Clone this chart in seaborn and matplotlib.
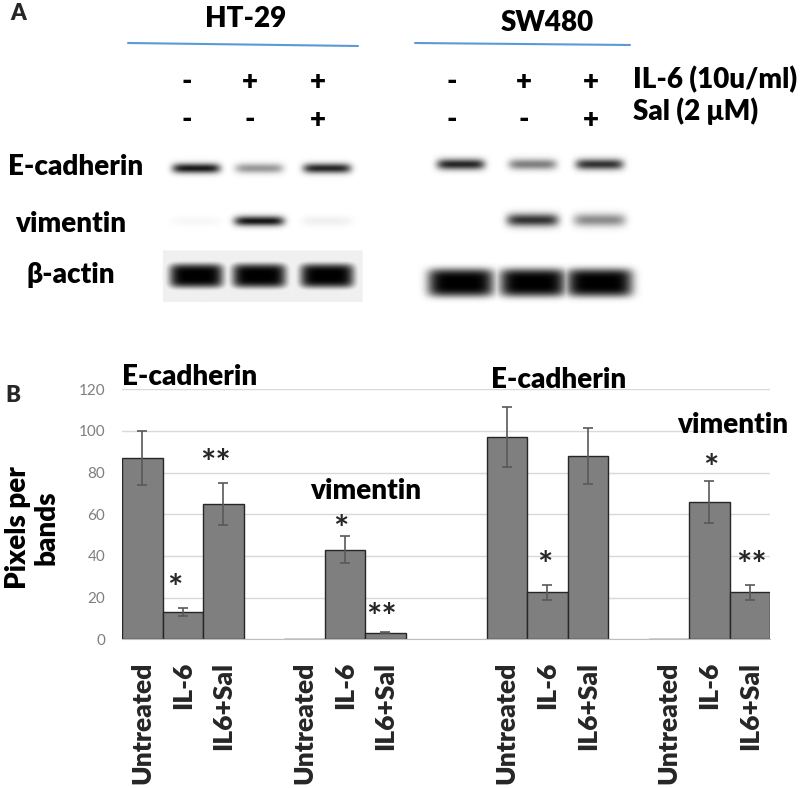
import matplotlib
matplotlib.use('Agg')

import numpy as np
import pandas as pd
import matplotlib.pyplot as plt
import seaborn as sns

sns.set_style('white')
plt.rcParams['font.family'] = ['Lato', 'DejaVu Sans']

# ---- panel A: western blot band intensities (0 = nothing, 1 = saturated)
# lanes: untreated, IL-6, IL-6 + Sal
il6_signs = ['-', '+', '+']
sal_signs = ['-', '-', '+']
ht_ecad = [0.9, 0.4, 0.85]
ht_vim = [0.03, 0.92, 0.06]
ht_actin = [1.0, 1.0, 1.0]
sw_ecad = [0.85, 0.5, 0.8]
sw_vim = [0.0, 0.8, 0.45]
sw_actin = [1.0, 1.0, 1.0]
row_names = ['E-cadherin', 'vimentin', 'β-actin']

# ---- panel B: densitometry, pixels per band (mean, sd)
treatments = ['Untreated', 'IL-6', 'IL6+Sal']
ht_ecad_mean = [87, 13, 65]
ht_ecad_sd = [13, 2, 10]
ht_vim_mean = [0.3, 43, 3.2]
ht_vim_sd = [0, 6.5, 0.3]
sw_ecad_mean = [97, 22.5, 88]
sw_ecad_sd = [14.5, 3.4, 13.3]
sw_vim_mean = [0.3, 66, 22.5]
sw_vim_sd = [0, 10, 3.4]
ht_ecad_sig = ['', '*', '**']
ht_vim_sig = ['', '*', '**']
sw_ecad_sig = ['', '*', '']
sw_vim_sig = ['', '*', '**']
panel_titles = ['E-cadherin', 'vimentin', 'E-cadherin', 'vimentin']

# layout (pixel coords of the 800x788 figure for panel A)
ht_lanes = [196, 259, 327]
sw_lanes = [461, 533, 600]
ht_rows = [(168, 5, 24, 2), (221, 5, 25, 2), (276, 12, 27, 4)]
sw_rows = [(164, 5.5, 24, 2), (220, 6.5, 26, 2), (283, 14, 33, 4)]
group_start = [0, 4, 9, 13]
title_pos = [(-0.5, 122), (4.15, 67.5), (8.6, 120.6), (13.2, 99)]
star_dx = [-0.2, -0.1, -0.05, 0.05]
star_base = [[0, 19, 79], [0, 47, 5], [0, 30, 0], [0, 76.5, 30]]


def blot_image(xs, ys, lanes, rows, intensities):
    X, Y = np.meshgrid(xs, ys)
    dark = np.zeros_like(X, dtype=float)
    for (cy, hh, hw, p), vals in zip(rows, intensities):
        for cx, v in zip(lanes, vals):
            d = v * np.exp(-(np.abs(X - cx) / hw) ** 6 - (np.abs(Y - cy) / hh) ** p)
            dark = np.maximum(dark, d)
    return dark


fig = plt.figure(figsize=(8, 7.88), dpi=100)
axA = fig.add_axes([0, 0, 1, 1])
axA.set_xlim(0, 800)
axA.set_ylim(788, 0)
axA.axis('off')

xs = np.arange(140, 660, 1.0)
ys = np.arange(135, 315, 1.0)
dark = blot_image(xs, ys, ht_lanes, ht_rows, [ht_ecad, ht_vim, ht_actin])
dark = np.maximum(dark, blot_image(xs, ys, sw_lanes, sw_rows, [sw_ecad, sw_vim, sw_actin]))
# light grey strip behind the HT-29 actin row
Xg, Yg = np.meshgrid(xs, ys)
dark = np.maximum(dark, 0.06 * ((Xg > 162) & (Xg < 363) & (Yg > 250) & (Yg < 303)))
axA.imshow(1 - np.clip(dark, 0, 1), cmap='gray', vmin=0, vmax=1,
           extent=(xs[0], xs[-1], ys[-1], ys[0]), interpolation='bilinear', aspect='auto')

bold = dict(fontweight='heavy', fontsize=20, color='black')
axA.text(10, 20, 'A', fontweight='heavy', fontsize=16)
axA.text(246, 27, 'HT-29', ha='center', va='baseline', **bold)
axA.text(547, 31, 'SW480', ha='center', va='baseline', **bold)
axA.plot([128, 358], [43, 46], color='#5b9bd5', lw=1.5)
axA.plot([415, 630], [43, 45], color='#5b9bd5', lw=1.5)
for lanes in (ht_lanes, sw_lanes):
    for cx, a, b in zip(lanes, il6_signs, sal_signs):
        axA.text(cx - 9, 90, a, ha='center', va='baseline', **bold)
        axA.text(cx - 9, 128, b, ha='center', va='baseline', **bold)
axA.text(633, 88, 'IL-6 (10u/ml)', va='baseline', **bold)
axA.text(633, 120, 'Sal (2 μM)', va='baseline', **bold)
for name, x0, yb in zip(row_names, [8, 15, 27], [175, 232, 283]):
    axA.text(x0, yb, name, va='baseline', **bold)

axA.text(5, 402, 'B', fontweight='heavy', fontsize=16)
axA.text(32, 528, 'Pixels per\nbands', rotation=90, ha='center', va='center',
         linespacing=1.1, **bold)

# ---- panel B bar chart
means = [ht_ecad_mean, ht_vim_mean, sw_ecad_mean, sw_vim_mean]
sds = [ht_ecad_sd, ht_vim_sd, sw_ecad_sd, sw_vim_sd]
sigs = [ht_ecad_sig, ht_vim_sig, sw_ecad_sig, sw_vim_sig]
rows = []
for g in range(4):
    for t in range(3):
        rows.append(dict(slot=group_start[g] + t, treatment=treatments[t],
                         value=means[g][t], sd=sds[g][t], sig=sigs[g][t]))
df = pd.DataFrame(rows)

axB = fig.add_axes([122 / 800, 1 - 639.3 / 788, 648 / 800, 250 / 788])
axB.patch.set_alpha(0)
sns.barplot(data=df, x='slot', y='value', native_scale=True, width=1, color='#7f7f7f',
            saturation=1, edgecolor='#262626', linewidth=1, errorbar=None, ax=axB)
e = df[df.sd > 0]
axB.errorbar(e.slot, e.value, yerr=e.sd, fmt='none', ecolor='#595959', elinewidth=1.2,
             capsize=3.5, capthick=1.2)

axB.set_xlim(-0.5, 15.5)
axB.set_ylim(0, 120)
axB.set_yticks(range(0, 121, 20))
axB.yaxis.grid(True, color='#d9d9d9', lw=1)
axB.set_axisbelow(True)
for s in ['top', 'right', 'left']:
    axB.spines[s].set_visible(False)
axB.spines['bottom'].set_color('#bfbfbf')
axB.tick_params(axis='y', length=0, pad=12, labelsize=11, labelcolor='#7f7f7f')
axB.set_xticks(df.slot)
axB.set_xticklabels(df.treatment, rotation=90, fontsize=19, fontweight='heavy')
axB.tick_params(axis='x', length=0, pad=16)
axB.set_xlabel('')
axB.set_ylabel('')

for g in range(4):
    axB.text(title_pos[g][0], title_pos[g][1], panel_titles[g], va='baseline',
             clip_on=False, **bold)
    for t in range(3):
        if sigs[g][t]:
            axB.text(group_start[g] + t + star_dx[g], star_base[g][t], sigs[g][t],
                     ha='center', va='baseline', fontsize=26, fontweight='bold',
                     clip_on=False)

fig.savefig('out.png', dpi=100)
